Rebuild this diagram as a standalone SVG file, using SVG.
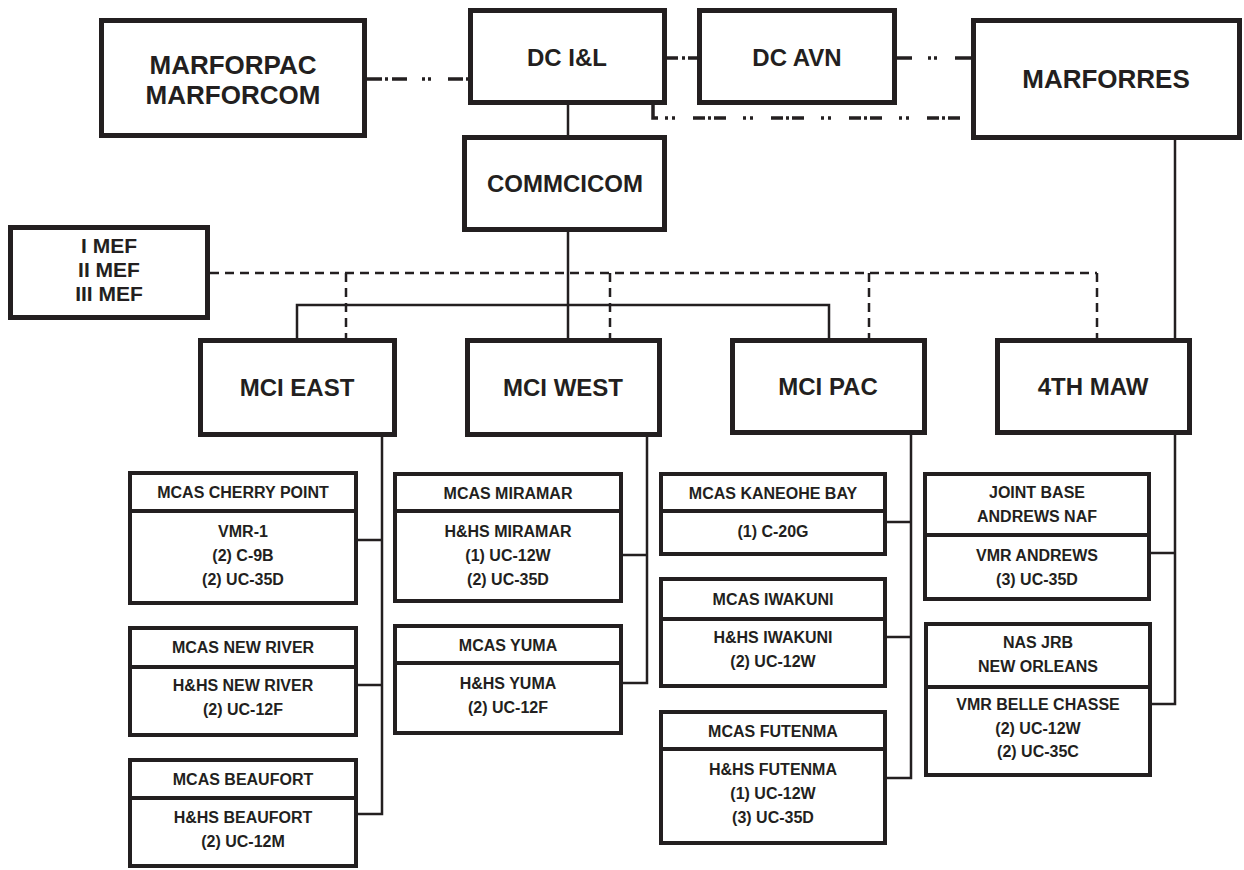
<svg xmlns="http://www.w3.org/2000/svg" width="1244" height="870" viewBox="0 0 1244 870">
<defs>
<style>
text{font-family:"Liberation Sans",Arial,sans-serif;font-weight:bold;fill:#231f20;text-anchor:middle}
.big{font-size:26px}
.mid{font-size:24px}
.mef{font-size:21px}
.sm{font-size:16px}
.main{fill:#fff;stroke:#231f20;stroke-width:5}
.sub{fill:#fff;stroke:#231f20;stroke-width:4}
.div{stroke:#231f20;stroke-width:4}
.solid{fill:none;stroke:#231f20;stroke-width:2.5}
.dash{fill:none;stroke:#231f20;stroke-width:2.5;stroke-dasharray:9 6}
.dd{fill:none;stroke:#231f20;stroke-width:3.5}
</style>
</defs>
<rect width="1244" height="870" fill="#fff"/>
<g id="connectors">
<path class="dd" d="M367,79 H468" stroke-dasharray="15 3 3 4 15 15 3 3 3 17"/>
<path class="dd" d="M667,58 H697" stroke-dasharray="11 4 3 3 12"/>
<path class="dd" d="M897,58 H971" stroke-dasharray="15 16 3 3 3 18 18"/>
<path class="dd" d="M653,105 V118 H658" fill="none"/>
<path class="dd" d="M664,118 H971" stroke-dasharray="3 4 3 18 12 3 3 3 12 17" stroke-dashoffset="-1"/>
<path class="solid" d="M568,105 V136"/>
<path class="solid" d="M568,232 V339"/>
<path class="solid" d="M297,339 V305 H829 V339"/>
<path class="solid" d="M1175,140 V339"/>
<path class="dash" d="M210,273 H1097"/>
<path class="dash" d="M346,273 V339"/>
<path class="dash" d="M610,273 V339"/>
<path class="dash" d="M869,273 V339"/>
<path class="dash" d="M1097,273 V339"/>
<path class="solid" d="M382,436 V814 H358 M382,540 H358 M382,685 H358"/>
<path class="solid" d="M647,436 V683 H623 M647,555 H623"/>
<path class="solid" d="M911,434 V778 H887 M911,522 H887 M911,637 H887"/>
<path class="solid" d="M1175,434 V704 H1152 M1175,553 H1151"/>
</g>
<g id="marforpac"><rect class="main" x="101.5" y="20.5" width="263" height="115"/><text class="big" x="233" y="74">MARFORPAC</text><text class="big" x="233" y="104">MARFORCOM</text></g>
<g id="dcil"><rect class="main" x="470.5" y="10.5" width="194" height="92"/><text class="mid" x="567" y="66">DC I&amp;L</text></g>
<g id="dcavn"><rect class="main" x="699.5" y="10.5" width="195" height="92"/><text class="mid" x="797" y="66">DC AVN</text></g>
<g id="marforres"><rect class="main" x="973.5" y="20.5" width="266" height="117"/><text class="big" x="1106" y="88">MARFORRES</text></g>
<g id="commcicom"><rect class="main" x="464.5" y="137.5" width="200" height="92"/><text class="mid" x="565" y="192">COMMCICOM</text></g>
<g id="mef"><rect class="main" x="10.5" y="227.5" width="197" height="90"/><text class="mef" x="109" y="253">I MEF</text><text class="mef" x="109" y="277">II MEF</text><text class="mef" x="109" y="301">III MEF</text></g>
<g id="mcieast"><rect class="main" x="200.5" y="340.5" width="194" height="94"/><text class="mid" x="297" y="396">MCI EAST</text></g>
<g id="mciwest"><rect class="main" x="467.5" y="340.5" width="192" height="94"/><text class="mid" x="563" y="396">MCI WEST</text></g>
<g id="mcipac"><rect class="main" x="732.5" y="340.5" width="192" height="92"/><text class="mid" x="828" y="395">MCI PAC</text></g>
<g id="maw4"><rect class="main" x="997.5" y="340.5" width="192" height="92"/><text class="mid" x="1093" y="395">4TH MAW</text></g>
<g id="cherrypoint"><rect class="sub" x="130" y="473" width="226" height="130"/><line class="div" x1="130" y1="511" x2="356" y2="511"/><text class="sm" x="243" y="498">MCAS CHERRY POINT</text><text class="sm" x="243" y="537">VMR-1</text><text class="sm" x="243" y="561">(2) C-9B</text><text class="sm" x="243" y="585">(2) UC-35D</text></g>
<g id="newriver"><rect class="sub" x="130" y="628" width="226" height="107"/><line class="div" x1="130" y1="667" x2="356" y2="667"/><text class="sm" x="243" y="653">MCAS NEW RIVER</text><text class="sm" x="243" y="691">H&amp;HS NEW RIVER</text><text class="sm" x="243" y="715">(2) UC-12F</text></g>
<g id="beaufort"><rect class="sub" x="130" y="760" width="226" height="106"/><line class="div" x1="130" y1="798" x2="356" y2="798"/><text class="sm" x="243" y="785">MCAS BEAUFORT</text><text class="sm" x="243" y="823">H&amp;HS BEAUFORT</text><text class="sm" x="243" y="847">(2) UC-12M</text></g>
<g id="miramar"><rect class="sub" x="395" y="474" width="226" height="127"/><line class="div" x1="395" y1="511" x2="621" y2="511"/><text class="sm" x="508" y="499">MCAS MIRAMAR</text><text class="sm" x="508" y="537">H&amp;HS MIRAMAR</text><text class="sm" x="508" y="561">(1) UC-12W</text><text class="sm" x="508" y="585">(2) UC-35D</text></g>
<g id="yuma"><rect class="sub" x="395" y="626" width="226" height="107"/><line class="div" x1="395" y1="663" x2="621" y2="663"/><text class="sm" x="508" y="651">MCAS YUMA</text><text class="sm" x="508" y="689">H&amp;HS YUMA</text><text class="sm" x="508" y="713">(2) UC-12F</text></g>
<g id="kaneohe"><rect class="sub" x="661" y="474" width="224" height="80"/><line class="div" x1="661" y1="511" x2="885" y2="511"/><text class="sm" x="773" y="499">MCAS KANEOHE BAY</text><text class="sm" x="773" y="537">(1) C-20G</text></g>
<g id="iwakuni"><rect class="sub" x="661" y="579" width="224" height="107"/><line class="div" x1="661" y1="619" x2="885" y2="619"/><text class="sm" x="773" y="605">MCAS IWAKUNI</text><text class="sm" x="773" y="643">H&amp;HS IWAKUNI</text><text class="sm" x="773" y="667">(2) UC-12W</text></g>
<g id="futenma"><rect class="sub" x="661" y="712" width="224" height="131"/><line class="div" x1="661" y1="749" x2="885" y2="749"/><text class="sm" x="773" y="737">MCAS FUTENMA</text><text class="sm" x="773" y="775">H&amp;HS FUTENMA</text><text class="sm" x="773" y="799">(1) UC-12W</text><text class="sm" x="773" y="823">(3) UC-35D</text></g>
<g id="andrews"><rect class="sub" x="925" y="474" width="224" height="125"/><line class="div" x1="925" y1="535" x2="1149" y2="535"/><text class="sm" x="1037" y="498">JOINT BASE</text><text class="sm" x="1037" y="522">ANDREWS NAF</text><text class="sm" x="1037" y="561">VMR ANDREWS</text><text class="sm" x="1037" y="585">(3) UC-35D</text></g>
<g id="nasjrb"><rect class="sub" x="926" y="624" width="224" height="151"/><line class="div" x1="926" y1="687" x2="1150" y2="687"/><text class="sm" x="1038" y="648">NAS JRB</text><text class="sm" x="1038" y="672">NEW ORLEANS</text><text class="sm" x="1038" y="710">VMR BELLE CHASSE</text><text class="sm" x="1038" y="734">(2) UC-12W</text><text class="sm" x="1038" y="757">(2) UC-35C</text></g>
</svg>
